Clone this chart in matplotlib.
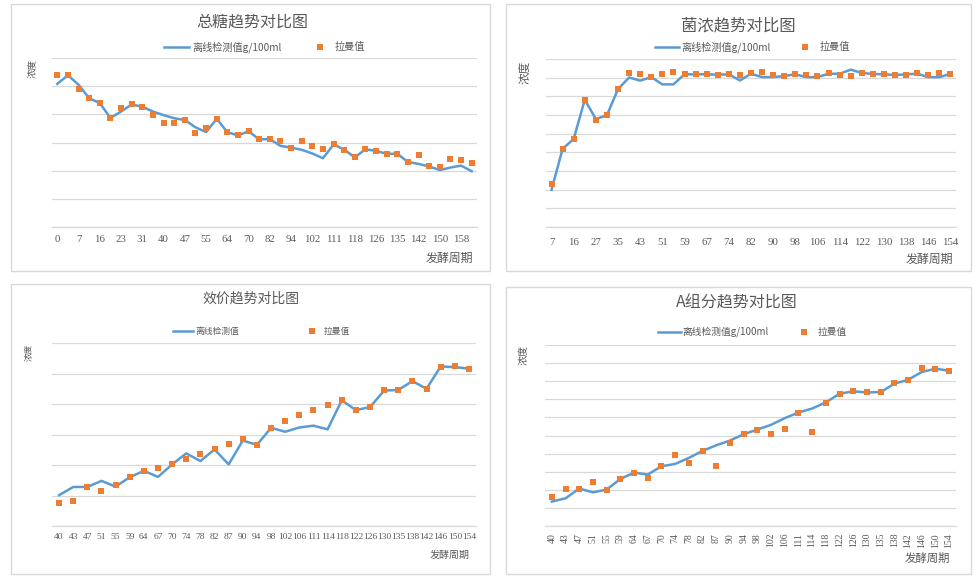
import matplotlib
matplotlib.use('Agg')
import matplotlib.pyplot as plt
from matplotlib.lines import Line2D
from matplotlib.patches import Rectangle

plt.rcParams['font.family'] = ['Noto Sans CJK SC', 'DejaVu Sans']

# ---------------- data ----------------
# 总糖 (40 samples, every other category labelled)
sugar_ticks = ['0', '7', '16', '23', '31', '40', '47', '55', '64', '70',
               '82', '94', '102', '111', '118', '126', '135', '142', '150', '158']
sugar_offline = [5.08, 5.39, 5.05, 4.57, 4.40, 3.87, 4.10, 4.35, 4.27, 4.10,
                 3.97, 3.86, 3.80, 3.54, 3.37, 3.84, 3.37, 3.25, 3.40, 3.11,
                 3.12, 2.88, 2.82, 2.74, 2.61, 2.44, 2.93, 2.75, 2.47, 2.76,
                 2.70, 2.60, 2.60, 2.31, 2.24, 2.15, 2.02, 2.11, 2.18, 1.98]
sugar_raman = [5.39, 5.39, 4.89, 4.57, 4.40, 3.87, 4.21, 4.35, 4.27, 3.99,
               3.70, 3.69, 3.80, 3.32, 3.50, 3.84, 3.37, 3.25, 3.40, 3.11,
               3.11, 3.05, 2.82, 3.05, 2.88, 2.76, 2.93, 2.75, 2.47, 2.76,
               2.70, 2.60, 2.60, 2.31, 2.55, 2.18, 2.14, 2.40, 2.38, 2.28]

# 菌浓 (37 samples, every other category labelled)
cell_ticks = ['7', '16', '27', '35', '43', '51', '59', '67', '74', '82',
              '90', '98', '106', '114', '122', '130', '138', '146', '154']
cell_offline = [1.99, 4.19, 4.72, 6.82, 5.78, 5.99, 7.39, 8.01, 7.84, 8.03,
                7.64, 7.64, 8.18, 8.18, 8.18, 8.16, 8.18, 7.85, 8.21, 8.03,
                8.03, 8.09, 8.18, 8.03, 8.03, 8.21, 8.21, 8.43, 8.25, 8.20,
                8.18, 8.14, 8.18, 8.21, 8.03, 8.03, 8.20]
cell_raman = [2.31, 4.19, 4.72, 6.82, 5.74, 5.99, 7.39, 8.23, 8.21, 8.03,
              8.19, 8.32, 8.19, 8.19, 8.19, 8.16, 8.21, 8.14, 8.27, 8.30,
              8.14, 8.10, 8.19, 8.14, 8.10, 8.23, 8.16, 8.10, 8.27, 8.21,
              8.19, 8.16, 8.16, 8.23, 8.12, 8.25, 8.19]

# 效价
titer_ticks = ['40', '43', '47', '51', '55', '59', '64', '67', '70', '74',
               '78', '82', '87', '90', '94', '98', '102', '106', '111', '114',
               '118', '122', '126', '130', '135', '138', '142', '146', '150', '154']
titer_offline = [1.01, 1.28, 1.28, 1.48, 1.29, 1.60, 1.81, 1.61, 2.02, 2.38,
                 2.13, 2.51, 2.02, 2.80, 2.66, 3.22, 3.09, 3.23, 3.29, 3.17,
                 4.12, 3.80, 3.90, 4.44, 4.46, 4.75, 4.50, 5.23, 5.21, 5.16]
titer_raman = [0.75, 0.81, 1.28, 1.16, 1.34, 1.60, 1.81, 1.90, 2.03, 2.19,
               2.36, 2.51, 2.69, 2.85, 2.65, 3.21, 3.43, 3.64, 3.80, 3.98,
               4.14, 3.80, 3.90, 4.45, 4.46, 4.75, 4.50, 5.21, 5.25, 5.16]

# A组分
compA_ticks = titer_ticks
compA_offline = [1.35, 1.53, 2.07, 1.86, 2.01, 2.60, 2.95, 2.84, 3.30, 3.43,
                 3.76, 4.15, 4.46, 4.72, 5.07, 5.33, 5.59, 5.96, 6.27, 6.49,
                 6.83, 7.31, 7.44, 7.38, 7.40, 7.86, 8.08, 8.51, 8.69, 8.58]
compA_raman = [1.62, 2.05, 2.07, 2.42, 2.01, 2.60, 2.95, 2.66, 3.30, 3.91,
               3.49, 4.15, 3.32, 4.56, 5.07, 5.33, 5.09, 5.37, 6.27, 5.22,
               6.81, 7.31, 7.45, 7.40, 7.40, 7.88, 8.08, 8.75, 8.67, 8.58]

legend_line_long = '离线检测值g/100ml'
legend_line_short = '离线检测值'
legend_marker = '拉曼值'
ylabel_text = '浓度'
xlabel_text = '发酵周期'

# ---------------- style ----------------
W, H = 979, 579
BLUE = '#5B9BD5'
ORANGE = '#ED7D31'
GRID = '#D9D9D9'
TXT = '#595959'
FRAME = '#D9D9D9'
MS = 3.8

fig = plt.figure(figsize=(W / 100, H / 100), dpi=100)
fig.patch.set_facecolor('white')


def fx(x):
    return x / W


def fy(y):
    return 1 - y / H


def frame(x0, y0, x1, y1):
    fig.add_artist(Rectangle((fx(x0), fy(y1)), fx(x1) - fx(x0), fy(y0) - fy(y1),
                             transform=fig.transFigure, fill=False,
                             edgecolor=FRAME, linewidth=1.0))


def panel(box, plot, title, tfs, ty, tcx, leg, ymax, ticks, tick_every,
          offline, raman, tickfs, tickpad, rot, ylab, xlab):
    frame(*box)
    l, t, r, b = plot
    ax = fig.add_axes([fx(l), fy(b), fx(r) - fx(l), fy(t) - fy(b)])
    n = len(offline)
    xs = list(range(n))
    ax.plot(xs, offline, color=BLUE, lw=1.8, solid_joinstyle='round', zorder=3)
    ax.plot(xs, raman, ls='none', marker='s', ms=MS, color=ORANGE,
            markeredgewidth=0, zorder=4)
    ax.set_xlim(-0.5, n - 0.5)
    ax.set_ylim(0, ymax)
    ax.set_yticks(range(0, ymax + 1))
    ax.set_yticklabels([])
    ax.tick_params(axis='y', length=0)
    ax.grid(axis='y', color=GRID, lw=0.9)
    ax.set_axisbelow(True)
    for s in ['left', 'right', 'top']:
        ax.spines[s].set_visible(False)
    ax.spines['bottom'].set_color(GRID)
    ax.spines['bottom'].set_linewidth(0.9)
    ax.set_xticks(xs[::tick_every])
    ax.set_xticklabels(ticks, fontsize=tickfs, color=TXT, rotation=rot,
                       family=['Liberation Serif', 'DejaVu Serif'])
    ax.tick_params(axis='x', length=0, pad=tickpad)
    ax.set_facecolor('none')

    fig.text(fx(tcx), fy(ty), title, ha='center', va='center', fontsize=tfs,
             color=TXT)
    # legend
    lx0, lx1, lty, ltxt, mx, mtx, lfs, ltext = leg
    fig.add_artist(Line2D([fx(lx0), fx(lx1)], [fy(lty), fy(lty)],
                          transform=fig.transFigure, color=BLUE, lw=1.8))
    fig.text(fx(ltxt), fy(lty), ltext, ha='left', va='center', fontsize=lfs,
             color=TXT)
    fig.add_artist(Line2D([fx(mx)], [fy(lty)], transform=fig.transFigure,
                          marker='s', ms=MS, color=ORANGE, markeredgewidth=0,
                          ls='none'))
    fig.text(fx(mtx), fy(lty), legend_marker, ha='left', va='center',
             fontsize=lfs, color=TXT)
    yx, yy, yfs = ylab
    fig.text(fx(yx), fy(yy), ylabel_text, ha='center', va='center',
             rotation=90, fontsize=yfs, color=TXT)
    xr, xy, xfs = xlab
    fig.text(fx(xr), fy(xy), xlabel_text, ha='right', va='center',
             fontsize=xfs, color=TXT)
    return ax


# 总糖
panel(box=(11, 4, 490, 271), plot=(52, 58, 477, 227),
      title='总糖趋势对比图', tfs=11.5, ty=22, tcx=252,
      leg=(164, 189, 47, 192, 320, 335, 7.3, legend_line_long),
      ymax=6, ticks=sugar_ticks, tick_every=2,
      offline=sugar_offline, raman=sugar_raman,
      tickfs=7.8, tickpad=6, rot=0,
      ylab=(32, 69, 6.8), xlab=(473, 258, 8.6))

# 菌浓
panel(box=(506, 4, 971, 271), plot=(546, 59, 956, 227),
      title='菌浓趋势对比图', tfs=11.8, ty=26, tcx=738,
      leg=(655, 679, 47, 681, 805, 820, 7.3, legend_line_long),
      ymax=9, ticks=cell_ticks, tick_every=2,
      offline=cell_offline, raman=cell_raman,
      tickfs=7.8, tickpad=8, rot=0,
      ylab=(525, 72, 8.4), xlab=(953, 259, 8.6))

# 效价
panel(box=(11, 284, 490, 574), plot=(52, 343, 476, 526),
      title='效价趋势对比图', tfs=10, ty=299, tcx=251,
      leg=(173, 193, 331, 195, 312, 324, 6.3, legend_line_short),
      ymax=6, ticks=titer_ticks, tick_every=1,
      offline=titer_offline, raman=titer_raman,
      tickfs=6.8, tickpad=5, rot=0,
      ylab=(29, 352, 6.2), xlab=(470, 555, 7.2))

# A组分
panel(box=(506, 287, 971, 574), plot=(545, 345, 956, 526),
      title='A组分趋势对比图', tfs=11.5, ty=303, tcx=737,
      leg=(658, 681, 332, 682, 804, 818, 7.0, legend_line_long),
      ymax=10, ticks=compA_ticks, tick_every=1,
      offline=compA_offline, raman=compA_raman,
      tickfs=7, tickpad=5, rot=90,
      ylab=(524, 355, 7.2), xlab=(950, 558, 8.2))

fig.savefig('out.png', dpi=100, facecolor='white')
